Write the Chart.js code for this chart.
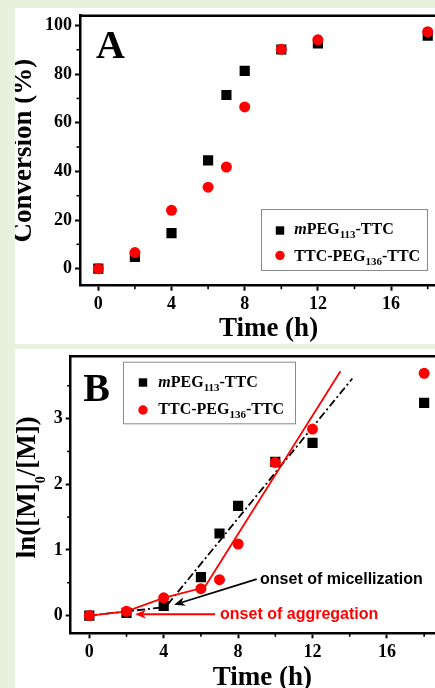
<!DOCTYPE html>
<html><head><meta charset="utf-8">
<script src="https://cdn.jsdelivr.net/npm/chart.js@4.4.0/dist/chart.umd.min.js"></script>
<style>
html,body{margin:0;padding:0;}
body{width:435px;height:688px;overflow:hidden;background:#e8f0de;position:relative;}
.panel{position:absolute;left:15px;background:#fff;overflow:hidden;}
#pa{top:8px;width:420px;height:336px;}
#pb{top:349px;width:420px;height:339px;}
canvas{display:block;}
</style></head><body>
<div class="panel" id="pa"><canvas id="ca" width="450" height="336"></canvas></div>
<div class="panel" id="pb"><canvas id="cb" width="450" height="339"></canvas></div>
<script>
// ---------------- data ----------------
const timeH    = [0, 2, 4, 6, 7, 8, 10, 12, 18];
const convMPEG = [0, 4.8, 14.6, 44.5, 71.4, 81.3, 90.1, 92.6, 95.8];
const convTTC  = [0, 6.6, 24.0, 33.5, 41.8, 66.5, 90.2, 94.1, 97.4];
const lnMPEG   = [0, 0.04, 0.146, 0.586, 1.25, 1.67, 2.34, 2.63, 3.24];
const lnTTC    = [0, 0.065, 0.27, 0.41, 0.546, 1.09, 2.33, 2.84, 3.69];
const fitMPEGx = [0, 4.1, 14.14];
const fitMPEGy = [0, 0.13, 3.61];
const fitTTCx  = [0, 2, 4, 6.2, 13.5];
const fitTTCy  = [0, 0.065, 0.27, 0.43, 3.72];
const xMajor   = [0, 4, 8, 12, 16];
const xMinor   = [2, 6, 10, 14, 18];
const yMajorA  = [0, 20, 40, 60, 80, 100];
const yMinorA  = [10, 30, 50, 70, 90];
const yMajorB  = [0, 1, 2, 3];
const yMinorB  = [0.5, 1.5, 2.5, 3.5];
const seriesNames = ['mPEG113-TTC', 'TTC-PEG136-TTC'];

// ---------------- helpers ----------------
const SERIF = '"Liberation Serif", "Times New Roman", serif';
const SANS  = '"Liberation Sans", Arial, sans-serif';
const pts = (xs, ys) => xs.map((x, i) => ({x, y: ys[i]}));

function richText(ctx, x, y, segs, size, subSize, subOff) {
  let cx = x;
  for (const s of segs) {
    const fs = s.sub ? subSize : size;
    ctx.font = (s.it ? 'italic ' : '') + 'bold ' + fs + 'px ' + SERIF;
    ctx.fillText(s.t, cx, y + (s.sub ? subOff : 0));
    cx += ctx.measureText(s.t).width;
  }
  return cx - x;
}
const legendRows = [
  [{t:'m', it:true}, {t:'PEG'}, {t:'113', sub:true}, {t:'-TTC'}],
  [{t:'TTC-PEG'}, {t:'136', sub:true}, {t:'-TTC'}]
];

function drawLegend(ctx, L) {
  ctx.save();
  ctx.strokeStyle = '#8a8a8a'; ctx.lineWidth = 1;
  ctx.strokeRect(L.x + 0.5, L.y + 0.5, L.w, L.h);
  ctx.fillStyle = '#000';
  ctx.fillRect(L.mx - 4.2, L.m1 - 4.2, 8.4, 8.4);
  ctx.fillStyle = '#ff0000';
  ctx.beginPath(); ctx.arc(L.mx, L.m2, 4.7, 0, Math.PI * 2); ctx.fill();
  ctx.fillStyle = '#000'; ctx.textBaseline = 'alphabetic'; ctx.textAlign = 'left';
  richText(ctx, L.tx, L.b1, legendRows[0], 16, 11, 4);
  richText(ctx, L.tx, L.b2, legendRows[1], 16, 11, 4);
  ctx.restore();
}

function arrow(ctx, x1, y1, x2, y2, color) {
  const a = Math.atan2(y2 - y1, x2 - x1), c = Math.cos(a), s = Math.sin(a);
  const L = 11, W = 4.5;
  ctx.strokeStyle = color; ctx.fillStyle = color; ctx.lineWidth = 1.8;
  ctx.beginPath(); ctx.moveTo(x1, y1); ctx.lineTo(x2 - c * L * 0.7, y2 - s * L * 0.7); ctx.stroke();
  ctx.beginPath(); ctx.moveTo(x2, y2);
  ctx.lineTo(x2 - L * c + W * s, y2 - L * s - W * c);
  ctx.lineTo(x2 - 0.7 * L * c, y2 - 0.7 * L * s);
  ctx.lineTo(x2 - L * c - W * s, y2 - L * s + W * c);
  ctx.closePath(); ctx.fill();
}

function framePlugin(cfg) {
  return {
    id: 'frame',
    afterDraw(chart) {
      const {ctx, chartArea: a, scales: {x, y}} = chart;
      ctx.save();
      ctx.strokeStyle = '#000';
      ctx.lineWidth = 2.5;
      ctx.beginPath(); ctx.moveTo(a.left, a.top); ctx.lineTo(a.right, a.top); ctx.lineTo(a.right, a.bottom); ctx.stroke();
      ctx.lineWidth = 1.6;
      for (const v of cfg.xMinor) { const p = x.getPixelForValue(v); ctx.beginPath(); ctx.moveTo(p, a.bottom); ctx.lineTo(p, a.bottom + 3.5); ctx.stroke(); }
      for (const v of cfg.yMinor) { const p = y.getPixelForValue(v); ctx.beginPath(); ctx.moveTo(a.left, p); ctx.lineTo(a.left - 3.5, p); ctx.stroke(); }
      // panel letter
      ctx.fillStyle = '#000'; ctx.textBaseline = 'alphabetic'; ctx.textAlign = 'left';
      ctx.font = 'bold 40px ' + SERIF;
      ctx.fillText(cfg.letter, cfg.letterX, cfg.letterY);
      drawLegend(ctx, cfg.legend);
      if (cfg.extra) cfg.extra(chart);
      ctx.restore();
    }
  };
}

function xAxis(h, titlePad) {
  return {
    type: 'linear', min: -1, max: 19.6,
    afterBuildTicks: s => { s.ticks = xMajor.map(v => ({value: v})); },
    afterFit: s => { s.height = h; s.paddingLeft = 0; s.paddingRight = 0; s.paddingTop = 0; s.paddingBottom = 0; },
    ticks: {font: {family: SERIF, size: 18, weight: 'bold'}, color: '#000', padding: 3, maxRotation: 0, autoSkip: false},
    grid: {drawOnChartArea: false, drawTicks: true, tickLength: 5, tickWidth: 2, tickColor: '#000'},
    border: {display: true, color: '#000', width: 2.5},
    title: {display: true, text: 'Time (h)', color: '#000', font: {family: SERIF, size: 27, weight: 'bold', lineHeight: 1}, padding: {top: 0, bottom: titlePad}}
  };
}
function yAxis(w, min, max, majors, title, titlePad) {
  return {
    type: 'linear', min, max,
    afterBuildTicks: s => { s.ticks = majors.map(v => ({value: v})); },
    afterFit: s => { s.width = w; s.paddingLeft = 0; s.paddingRight = 0; s.paddingTop = 0; s.paddingBottom = 0; },
    ticks: {font: {family: SERIF, size: 18, weight: 'bold'}, color: '#000', padding: 3, autoSkip: false},
    grid: {drawOnChartArea: false, drawTicks: true, tickLength: 5, tickWidth: 2, tickColor: '#000'},
    border: {display: true, color: '#000', width: 2.5},
    title: {display: !!title, text: title || '', color: '#000', font: {family: SERIF, size: 27, weight: 'bold', lineHeight: 1}, padding: {top: titlePad, bottom: 0}}
  };
}
const common = {
  responsive: false, animation: false, events: [],
  plugins: {legend: {display: false}, tooltip: {enabled: false}}
};

// ---------------- Panel A ----------------
new Chart(document.getElementById('ca'), {
  type: 'scatter',
  data: {datasets: [
    {label: seriesNames[1], data: pts(timeH, convTTC), pointStyle: 'circle', pointRadius: 5.5, backgroundColor: '#ff0000', borderWidth: 0, order: 0},
    {label: seriesNames[0], data: pts(timeH, convMPEG), pointStyle: 'rect', pointRadius: 7.2, backgroundColor: '#000', borderWidth: 0, order: 1}
  ]},
  options: Object.assign({}, common, {
    layout: {padding: {top: 7.7, right: 8, left: 0, bottom: 0}},
    scales: {
      x: xAxis(58.3, 1.7),
      y: yAxis(65, -7, 104, yMajorA, 'Conversion (%)', -4.9)
    }
  }),
  plugins: [framePlugin({
    xMinor, yMinor: yMinorA, letter: 'A', letterX: 81, letterY: 50.3,
    legend: {x: 246, y: 201, w: 166, h: 61, mx: 265, m1: 222.5, m2: 247.5, tx: 279.3, b1: 226.3, b2: 252.7}
  })]
});

// ---------------- Panel B ----------------
const notes = {
  mic: {text: 'onset of micellization', color: '#000', tx: 9.18, ty: 0.546, from: [9.0, 0.556], to: [4.56, 0.164]},
  agg: {text: 'onset of aggregation', color: '#ff0000', tx: 7.03, ty: 0.02, from: [6.76, 0.02], to: [2.46, 0.02]}
};
new Chart(document.getElementById('cb'), {
  type: 'scatter',
  data: {datasets: [
    {label: seriesNames[1], data: pts(timeH, lnTTC), pointStyle: 'circle', pointRadius: 5.5, backgroundColor: '#ff0000', borderWidth: 0, order: 0},
    {label: seriesNames[0], data: pts(timeH, lnMPEG), pointStyle: 'rect', pointRadius: 7.2, backgroundColor: '#000', borderWidth: 0, order: 1},
    {label: 'fit TTC', data: pts(fitTTCx, fitTTCy), showLine: true, pointRadius: 0, borderColor: '#ff0000', borderWidth: 1.8, order: 2},
    {label: 'fit mPEG', data: pts(fitMPEGx, fitMPEGy), showLine: true, pointRadius: 0, borderColor: '#000', borderWidth: 1.8, borderDash: [8, 3, 2, 3], order: 3}
  ]},
  options: Object.assign({}, common, {
    layout: {padding: {top: 6, right: 11.1, left: 0, bottom: 0}},
    scales: {
      x: xAxis(54.7, -3.2),
      y: yAxis(55.7, -0.27, 3.95, yMajorB, '', 0)
    }
  }),
  plugins: [framePlugin({
    xMinor, yMinor: yMinorB, letter: 'B', letterX: 68.3, letterY: 52,
    legend: {x: 108, y: 12.7, w: 172, h: 61.6, mx: 128, m1: 33.5, m2: 61, tx: 143.3, b1: 38.3, b2: 65.3},
    extra(chart) {
      const {ctx, scales: {x, y}} = chart;
      // y-axis title with subscript
      ctx.save();
      ctx.translate(20.3, 209.3); ctx.rotate(-Math.PI / 2);
      ctx.fillStyle = '#000'; ctx.textBaseline = 'alphabetic'; ctx.textAlign = 'left';
      richText(ctx, 0, 0, [{t: 'ln([M]'}, {t: '0', sub: true}, {t: '/[M])'}], 27, 14, 10);
      ctx.restore();
      for (const k of Object.keys(notes)) {
        const n = notes[k];
        arrow(ctx, x.getPixelForValue(n.from[0]), y.getPixelForValue(n.from[1]), x.getPixelForValue(n.to[0]), y.getPixelForValue(n.to[1]), n.color);
        ctx.fillStyle = n.color; ctx.font = 'bold 16px ' + SANS; ctx.textBaseline = 'middle'; ctx.textAlign = 'left';
        ctx.fillText(n.text, x.getPixelForValue(n.tx), y.getPixelForValue(n.ty));
      }
    }
  })]
});
</script>
</body></html>
